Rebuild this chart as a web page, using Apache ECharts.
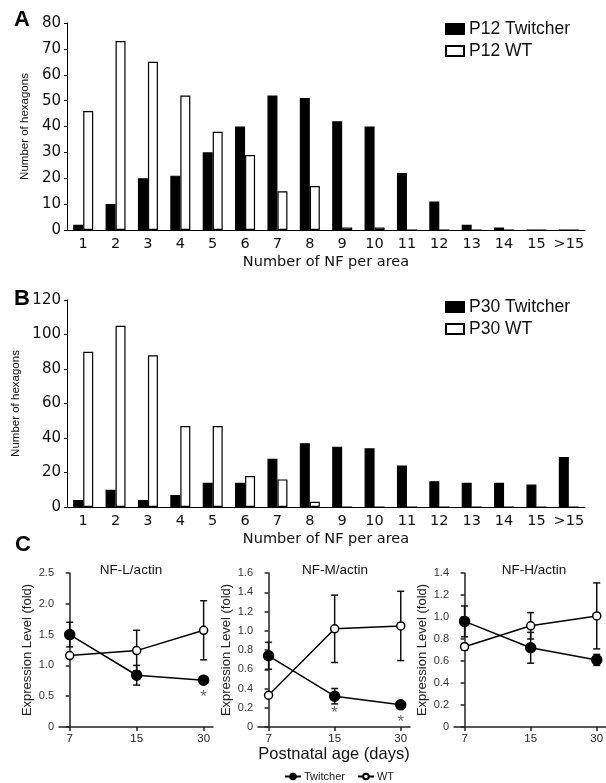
<!DOCTYPE html>
<html>
<head>
<meta charset="utf-8">
<script src="https://cdn.jsdelivr.net/npm/echarts@6/dist/echarts.min.js"></script>
<style>
  html, body { margin: 0; padding: 0; background: #fff; }
  #chart { width: 606px; height: 783px; }
</style>
</head>
<body>
<div id="chart"></div>
<script>
// A / B : histogram of NF per area
var nfBins = ['1', '2', '3', '4', '5', '6', '7', '8', '9', '10', '11', '12', '13', '14', '15', '>15'];
var p12Twitcher = [2, 10, 20, 21, 30, 40, 52, 51, 42, 40, 22, 11, 2, 1, 0, 0];
var p12WT = [46, 73, 65, 52, 38, 29, 15, 17, 1, 1, 0, 0, 0, 0, 0, 0];
var p30Twitcher = [4, 10, 4, 7, 14, 14, 28, 37, 35, 34, 24, 15, 14, 14, 13, 29];
var p30WT = [90, 105, 88, 47, 47, 18, 16, 3, 0, 0, 0, 0, 0, 0, 0, 0];

// C : expression level (fold), mean and error
var ages = ['7', '15', '30'];
var nflTwitcher = [1.50, 0.84, 0.76];
var nflTwitcherErr = [0.20, 0.16, 0.03];
var nflWT = [1.16, 1.24, 1.57];
var nflWTErr = [0.03, 0.33, 0.48];
var nflSig = [false, false, true];

var nfmTwitcher = [0.74, 0.32, 0.23];
var nfmTwitcherErr = [0.14, 0.08, 0.02];
var nfmWT = [0.33, 1.02, 1.05];
var nfmWTErr = [0.02, 0.35, 0.36];
var nfmSig = [false, true, true];

var nfhTwitcher = [0.96, 0.72, 0.61];
var nfhTwitcherErr = [0.14, 0.14, 0.05];
var nfhWT = [0.73, 0.92, 1.01];
var nfhWTErr = [0.03, 0.12, 0.30];
var nfhSig = [false, false, false];

var verdana = 'DejaVu Sans';
var arial = 'Liberation Sans';

var chart = echarts.init(document.getElementById('chart'));

// bar axis helpers
function barX(gi) {
  return {
    type: 'category', gridIndex: gi, data: nfBins,
    name: 'Number of NF per area', nameLocation: 'middle', nameGap: 25,
    nameTextStyle: { fontFamily: verdana, fontSize: 14.5, color: '#111' },
    axisLine: { lineStyle: { color: '#000', width: 1 } },
    axisTick: { length: 3, lineStyle: { color: '#000' } },
    axisLabel: { fontFamily: verdana, fontSize: 14.5, color: '#111', margin: 7, interval: 0 }
  };
}
function barY(gi, max, step) {
  return {
    type: 'value', gridIndex: gi, min: 0, max: max, interval: step,
    name: 'Number of hexagons', nameLocation: 'middle', nameGap: 31,
    nameTextStyle: { fontFamily: arial, fontSize: 11.5, color: '#111' },
    splitLine: { show: false },
    axisLine: { show: true, lineStyle: { color: '#000', width: 1 } },
    axisTick: { show: true, length: 3, lineStyle: { color: '#000' } },
    axisLabel: { fontFamily: verdana, fontSize: 15, color: '#111', margin: 6 }
  };
}
function barSeries(gi, name, values, filled) {
  return {
    type: 'bar', name: name, xAxisIndex: gi, yAxisIndex: gi, data: values,
    barWidth: 10, barGap: '0%',
    itemStyle: { color: filled ? '#000' : '#fff', borderColor: '#000', borderWidth: 1.2 }
  };
}

// line chart helpers
function lineX(gi, withName) {
  var ax = {
    type: 'value', gridIndex: gi, min: -0.16, max: 2.14,
    splitLine: { show: false },
    axisLine: { lineStyle: { color: '#222', width: 1.5 } },
    axisTick: { show: true, length: 4, customValues: [0, 1, 2], lineStyle: { color: '#222', width: 1.5 } },
    axisLabel: {
      fontFamily: arial, fontSize: 11.5, color: '#222', margin: 6,
      customValues: [0, 1, 2],
      formatter: function (v) { return ages[Math.round(v)]; }
    }
  };
  if (withName) {
    ax.name = 'Postnatal age (days)';
    ax.nameLocation = 'middle';
    ax.nameGap = 17;
    ax.nameTextStyle = { fontFamily: arial, fontSize: 16.5, color: '#111' };
  }
  return ax;
}
function lineY(gi, max, step) {
  return {
    type: 'value', gridIndex: gi, min: 0, max: max, interval: step,
    name: 'Expression Level (fold)', nameLocation: 'middle', nameGap: 25,
    nameTextStyle: { fontFamily: arial, fontSize: 13, color: '#222' },
    splitLine: { show: false },
    axisLine: { show: true, lineStyle: { color: '#222', width: 1.5 } },
    axisTick: { show: true, length: 4, lineStyle: { color: '#222', width: 1.5 } },
    axisLabel: {
      fontFamily: arial, fontSize: 11, color: '#333', margin: 5,
      formatter: function (v) { return v === 0 ? '0' : v.toFixed(1); }
    }
  };
}
function lineSeries(gi, name, means, open) {
  return {
    type: 'line', name: name, xAxisIndex: gi, yAxisIndex: gi, z: 3,
    data: means.map(function (m, i) { return [i, m]; }),
    symbol: 'circle', symbolSize: open ? 8 : 10,
    lineStyle: { color: '#000', width: 1.5 },
    itemStyle: { color: open ? '#fff' : '#000', borderColor: '#000', borderWidth: 1.5 }
  };
}
function errSeries(gi, means, errs) {
  return {
    type: 'custom', xAxisIndex: gi, yAxisIndex: gi, z: 2,
    data: means.map(function (m, i) { return [i, m - errs[i], m + errs[i]]; }),
    renderItem: function (params, api) {
      var lo = api.coord([api.value(0), api.value(1)]);
      var hi = api.coord([api.value(0), api.value(2)]);
      var hw = 3.5;
      var st = { stroke: '#111', lineWidth: 1.5 };
      return {
        type: 'group',
        children: [
          { type: 'line', shape: { x1: lo[0], y1: lo[1], x2: hi[0], y2: hi[1] }, style: st },
          { type: 'line', shape: { x1: lo[0] - hw, y1: lo[1], x2: lo[0] + hw, y2: lo[1] }, style: st },
          { type: 'line', shape: { x1: hi[0] - hw, y1: hi[1], x2: hi[0] + hw, y2: hi[1] }, style: st }
        ]
      };
    }
  };
}
// asterisks under significant twitcher points
function sigSeries(gi, means, sig) {
  var pts = [];
  sig.forEach(function (s, i) { if (s) pts.push([i, means[i]]); });
  return {
    type: 'scatter', xAxisIndex: gi, yAxisIndex: gi, data: pts, symbolSize: 0, silent: true,
    label: { show: true, position: 'bottom', distance: 9, formatter: '*',
      fontFamily: arial, fontSize: 17, color: '#444' }
  };
}

var option = {
  animation: false,
  backgroundColor: '#fff',
  grid: [
    { left: 67, top: 23, width: 518, height: 207, outerBoundsMode: 'none' },
    { left: 67, top: 300, width: 518, height: 207, outerBoundsMode: 'none' },
    { left: 59, top: 573, width: 154, height: 154, outerBoundsMode: 'none' },
    { left: 258, top: 573, width: 152, height: 154, outerBoundsMode: 'none' },
    { left: 454, top: 573, width: 152, height: 154, outerBoundsMode: 'none' }
  ],
  xAxis: [barX(0), barX(1), lineX(2, false), lineX(3, true), lineX(4, false)],
  yAxis: [barY(0, 80, 10), barY(1, 120, 20), lineY(2, 2.5, 0.5), lineY(3, 1.6, 0.2), lineY(4, 1.4, 0.2)],
  legend: [
    {
      data: ['P12 Twitcher', 'P12 WT'], orient: 'vertical', left: 440, top: 15,
      icon: 'rect', itemWidth: 18, itemHeight: 10, itemGap: 4, selectedMode: false,
      textStyle: { fontFamily: arial, fontSize: 17.5, color: '#111' }
    },
    {
      data: ['P30 Twitcher', 'P30 WT'], orient: 'vertical', left: 440, top: 293,
      icon: 'rect', itemWidth: 18, itemHeight: 10, itemGap: 4, selectedMode: false,
      textStyle: { fontFamily: arial, fontSize: 17.5, color: '#111' }
    },
    {
      data: ['Twitcher', 'WT'], orient: 'horizontal', left: 279, top: 766,
      itemWidth: 16, itemHeight: 7, itemGap: 12, selectedMode: false,
      textStyle: { fontFamily: arial, fontSize: 11, color: '#222', padding: [0, 0, 0, -2] }
    }
  ],
  graphic: [
    { type: 'text', left: 14, top: 9, style: { text: 'A', font: 'bold 22px "Liberation Sans"', fill: '#000' } },
    { type: 'text', left: 14, top: 288, style: { text: 'B', font: 'bold 22px "Liberation Sans"', fill: '#000' } },
    { type: 'text', left: 15, top: 534, style: { text: 'C', font: 'bold 22px "Liberation Sans"', fill: '#000' } },
    { type: 'text', x: 131, y: 570, style: { text: 'NF-L/actin', font: '13.5px "Liberation Sans"', fill: '#111', align: 'center', verticalAlign: 'middle' } },
    { type: 'text', x: 335, y: 570, style: { text: 'NF-M/actin', font: '13.5px "Liberation Sans"', fill: '#111', align: 'center', verticalAlign: 'middle' } },
    { type: 'text', x: 534, y: 570, style: { text: 'NF-H/actin', font: '13.5px "Liberation Sans"', fill: '#111', align: 'center', verticalAlign: 'middle' } }
  ],
  series: [
    barSeries(0, 'P12 Twitcher', p12Twitcher, true),
    barSeries(0, 'P12 WT', p12WT, false),
    barSeries(1, 'P30 Twitcher', p30Twitcher, true),
    barSeries(1, 'P30 WT', p30WT, false),

    errSeries(2, nflTwitcher, nflTwitcherErr),
    errSeries(2, nflWT, nflWTErr),
    lineSeries(2, 'Twitcher', nflTwitcher, false),
    lineSeries(2, 'WT', nflWT, true),
    sigSeries(2, nflTwitcher, nflSig),

    errSeries(3, nfmTwitcher, nfmTwitcherErr),
    errSeries(3, nfmWT, nfmWTErr),
    lineSeries(3, 'Twitcher', nfmTwitcher, false),
    lineSeries(3, 'WT', nfmWT, true),
    sigSeries(3, nfmTwitcher, nfmSig),

    errSeries(4, nfhTwitcher, nfhTwitcherErr),
    errSeries(4, nfhWT, nfhWTErr),
    lineSeries(4, 'Twitcher', nfhTwitcher, false),
    lineSeries(4, 'WT', nfhWT, true),
    sigSeries(4, nfhTwitcher, nfhSig)
  ]
};
chart.setOption(option);
</script>
</body>
</html>
